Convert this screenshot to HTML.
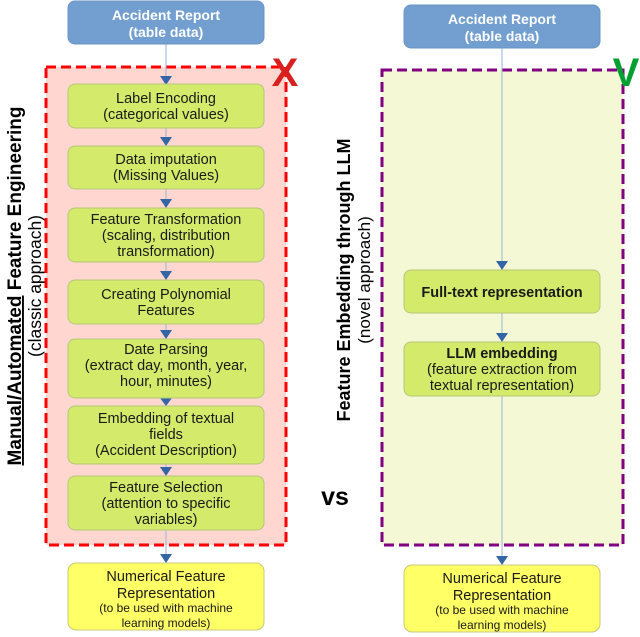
<!DOCTYPE html>
<html><head><meta charset="utf-8"><style>
html,body{margin:0;padding:0;background:#fff;}
svg{display:block;font-family:"Liberation Sans",sans-serif;}
</style></head><body>
<svg width="640" height="637" viewBox="0 0 640 637" xmlns="http://www.w3.org/2000/svg">
<!-- left container -->
<rect x="46" y="67" width="240" height="478" fill="#ffd7d0" stroke="#ff0000" stroke-width="3" stroke-dasharray="10,5"/>
<!-- right container -->
<rect x="382" y="70" width="241" height="475" fill="#f5f8d5" stroke="#800080" stroke-width="3" stroke-dasharray="10,5"/>
<text x="285" y="86" font-size="40" font-weight="bold" fill="#d82020" text-anchor="middle">X</text>
<text x="626" y="86" font-size="40" font-weight="bold" fill="#00a030" text-anchor="middle">V</text>

<!-- connectors -->
<g stroke="#9ab3d8" stroke-width="1">
<line x1="166" y1="44" x2="166" y2="76"/>
<line x1="166" y1="128" x2="166" y2="138"/>
<line x1="166" y1="189" x2="166" y2="200"/>
<line x1="166" y1="262" x2="166" y2="272"/>
<line x1="166" y1="324" x2="166" y2="331"/>
<line x1="166" y1="398" x2="166" y2="400"/>
<line x1="166" y1="464" x2="166" y2="468"/>
<line x1="166" y1="530" x2="166" y2="555"/>
<line x1="502" y1="48" x2="502" y2="262"/>
<line x1="502" y1="313" x2="502" y2="334"/>
<line x1="502" y1="396" x2="502" y2="557"/>
</g>
<g fill="#3465a4">
<path d="M160,76 L172,76 L166,85 Z"/>
<path d="M160,137 L172,137 L166,146 Z"/>
<path d="M160,199 L172,199 L166,208 Z"/>
<path d="M160,271 L172,271 L166,280 Z"/>
<path d="M160,330 L172,330 L166,339 Z"/>
<path d="M160,398 L172,398 L166,406 Z"/>
<path d="M160,467 L172,467 L166,476 Z"/>
<path d="M160,554 L172,554 L166,563 Z"/>
<path d="M496,261 L508,261 L502,270 Z"/>
<path d="M496,333 L508,333 L502,342 Z"/>
<path d="M496,556 L508,556 L502,565 Z"/>
</g>

<!-- top boxes -->
<rect x="68" y="1" width="196" height="43" rx="7" fill="#729fcf" stroke="#6a94c6"/>
<text font-size="14" font-weight="bold" fill="#fff" text-anchor="middle"><tspan x="166" y="20">Accident Report</tspan><tspan x="166" y="37">(table data)</tspan></text>
<rect x="404" y="5" width="196" height="43" rx="7" fill="#729fcf" stroke="#6a94c6"/>
<text font-size="14" font-weight="bold" fill="#fff" text-anchor="middle"><tspan x="502" y="24">Accident Report</tspan><tspan x="502" y="41">(table data)</tspan></text>

<g fill="#d4ea6b" stroke="#b5c77a">
<rect x="68" y="84" width="196" height="44" rx="7"/>
<rect x="68" y="146" width="196" height="43" rx="7"/>
<rect x="68" y="208" width="196" height="54" rx="7"/>
<rect x="68" y="280" width="196" height="44" rx="7"/>
<rect x="68" y="339" width="196" height="59" rx="7"/>
<rect x="68" y="406" width="196" height="58" rx="7"/>
<rect x="68" y="476" width="196" height="54" rx="7"/>
<rect x="404" y="270" width="196" height="43" rx="7"/>
<rect x="404" y="342" width="196" height="54" rx="7"/>
</g>
<g fill="#ffff66" stroke="#c8c87a">
<rect x="68" y="563" width="196" height="67" rx="8"/>
<rect x="404" y="565" width="196" height="67" rx="8"/>
</g>

<g font-size="14.5" fill="#1a1a1a" text-anchor="middle">
<text><tspan x="166" y="103">Label Encoding</tspan><tspan x="166" y="119">(categorical values)</tspan></text>
<text><tspan x="166" y="164">Data imputation</tspan><tspan x="166" y="180">(Missing Values)</tspan></text>
<text><tspan x="166" y="224">Feature Transformation</tspan><tspan x="166" y="240">(scaling, distribution</tspan><tspan x="166" y="256">transformation)</tspan></text>
<text><tspan x="166" y="299">Creating Polynomial</tspan><tspan x="166" y="315">Features</tspan></text>
<text><tspan x="166" y="354">Date Parsing</tspan><tspan x="166" y="370">(extract day, month, year,</tspan><tspan x="166" y="386">hour, minutes)</tspan></text>
<text><tspan x="166" y="423">Embedding of textual</tspan><tspan x="166" y="439">fields</tspan><tspan x="166" y="455">(Accident Description)</tspan></text>
<text><tspan x="166" y="492">Feature Selection</tspan><tspan x="166" y="508">(attention to specific</tspan><tspan x="166" y="524">variables)</tspan></text>
<text><tspan x="166" y="581">Numerical Feature</tspan><tspan x="166" y="598">Representation</tspan></text>
<text font-size="12"><tspan x="166" y="612">(to be used with machine</tspan><tspan x="166" y="627">learning models)</tspan></text>
<text font-weight="bold" x="502" y="297">Full-text representation</text>
<text><tspan x="502" y="358" font-weight="bold">LLM embedding</tspan><tspan x="502" y="374">(feature extraction from</tspan><tspan x="502" y="390">textual representation)</tspan></text>
<text><tspan x="502" y="583">Numerical Feature</tspan><tspan x="502" y="600">Representation</tspan></text>
<text font-size="12"><tspan x="502" y="614">(to be used with machine</tspan><tspan x="502" y="629">learning models)</tspan></text>
</g>

<!-- vertical labels -->
<text transform="translate(21,286) rotate(-90)" font-size="19" font-weight="bold" text-anchor="middle" fill="#000"><tspan text-decoration="underline">Manual/Automated</tspan> Feature Engineering</text>
<text transform="translate(41,286) rotate(-90)" font-size="17.5" text-anchor="middle" fill="#000">(classic approach)</text>
<text transform="translate(350,280) rotate(-90)" font-size="18" font-weight="bold" text-anchor="middle" fill="#000">Feature Embedding through LLM</text>
<text transform="translate(370,280) rotate(-90)" font-size="17" text-anchor="middle" fill="#000">(novel approach)</text>
<text x="335" y="505" font-size="25" font-weight="bold" text-anchor="middle" fill="#000">vs</text>
</svg>
</body></html>
